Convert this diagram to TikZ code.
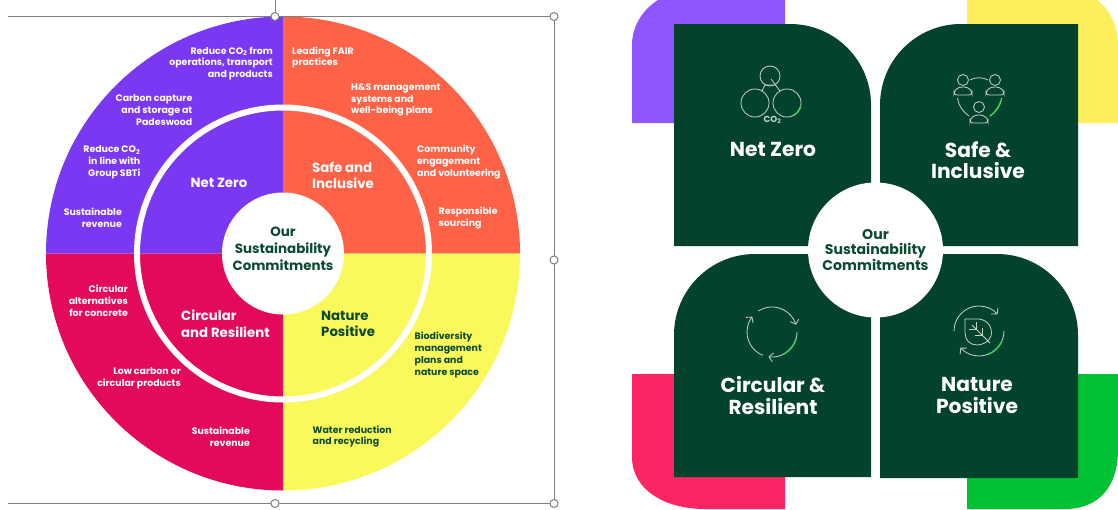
\documentclass[tikz,border=0pt]{standalone}
\usepackage{fontspec}
\setmainfont{Poppins}
\usetikzlibrary{arrows.meta}
\definecolor{ringpurple}{HTML}{7A38F2}
\definecolor{ringorange}{HTML}{FF6347}
\definecolor{ringcrimson}{HTML}{E30A5C}
\definecolor{ringyellow}{HTML}{F9F95B}
\definecolor{cardpurple}{HTML}{8F55FF}
\definecolor{cardyellow}{HTML}{FFEE5C}
\definecolor{cardpink}{HTML}{FB2564}
\definecolor{cardgreen}{HTML}{00C234}
\definecolor{carddark}{HTML}{03432E}
\definecolor{inkgreen}{HTML}{0B4A30}
\definecolor{framegrey}{HTML}{7F7F7F}
\definecolor{iconline}{HTML}{C4D4C6}
\definecolor{iconglow}{HTML}{45CF5F}
\tikzset{
	ringtext/.style={font=\fontsize{9.4}{11.8}\selectfont\bfseries, text=white, inner sep=0pt},
	ringleft/.style={ringtext, align=left, anchor=west},
	ringright/.style={ringtext, align=right, anchor=east},
	ringdark/.style={text=inkgreen},
	headtext/.style={font=\fontsize{13.3}{16.6}\selectfont\bfseries, text=white, inner sep=0pt, align=left},
	hubtext/.style={font=\fontsize{13.4}{17}\selectfont\bfseries, text=inkgreen, inner sep=0pt, align=center},
	cardtext/.style={font=\fontsize{20.2}{21.5}\selectfont\bfseries, text=white, inner sep=0pt, align=center},
	handle/.style={circle, draw=framegrey, fill=white, line width=1pt, minimum size=8pt, inner sep=0pt},
	icon/.style={draw=iconline, line width=0.8pt},
	glow/.style={draw=iconglow, line width=1.4pt, line cap=round},
	barb/.style={-{Straight Barb[length=4pt,width=9pt]}}
}

\begin{document}
\begin{tikzpicture}[x=1pt, y=-1pt]
	\useasboundingbox (0,0) rectangle (1118,509);

	% wheel on the left
	\fill[ringpurple] 	(283,253.5) -- (46,253.5) arc (180:270:237) -- cycle;
	\fill[ringorange] 	(283,253.5) -- (283,16.5) arc (270:360:237) -- cycle;
	\fill[ringyellow] 	(283,253.5) -- (520,253.5) arc (0:90:237) -- cycle;
	\fill[ringcrimson] 	(283,253.5) -- (283,490.5) arc (90:180:237) -- cycle;
	\draw[white, line width=6pt] 	(283,253.5) circle (146);
	\fill[white] 		(283,253.5) circle (61);

	% selection frame
	\draw[framegrey, line width=0.9pt] 	(8,16.5) -- (554,16.5) -- (554,503.5) -- (8,503.5);
	\draw[framegrey, line width=0.9pt] 	(275,0) -- (275,16.5);
	\node[handle] (handletop) at (275,16.5) {};
	\node[handle] (handlecorner) at (554,16.5) {};
	\node[handle] (handleside) at (554,260) {};
	\node[handle] (handlebottom) at (275,503.5) {};
	\node[handle] (handleend) at (554,503.5) {};

	% ring labels
	\node[ringright] (co2ops) at (273,63.5) {Reduce CO\textsubscript{2} from\\operations, transport\\and products};
	\node[ringright] (capture) at (192.5,110) {Carbon capture\\and storage at\\Padeswood};
	\node[ringright] (sbti) at (140.5,162) {Reduce CO\textsubscript{2}\\in line with\\Group SBTi};
	\node[ringright] (revenuea) at (122,218) {Sustainable\\revenue};
	\node[ringleft] (fair) at (292,57.5) {Leading FAIR\\practices};
	\node[ringleft] (hands) at (351,100) {H\&S management\\systems and\\well-being plans};
	\node[ringleft] (community) at (417,162) {Community\\engagement\\and volunteering};
	\node[ringleft] (sourcing) at (438.5,218) {Responsible\\sourcing};
	\node[ringright] (concrete) at (128,300.5) {Circular\\alternatives\\for concrete};
	\node[ringright] (lowcarbon) at (181,378) {Low carbon or\\circular products};
	\node[ringright] (revenueb) at (250,436.5) {Sustainable\\revenue};
	\node[ringleft, ringdark] (biodiversity) at (414.5,355) {Biodiversity\\management\\plans and\\nature space};
	\node[ringleft, ringdark] (water) at (312.5,436.5) {Water reduction\\and recycling};

	\node[headtext] (netzero) at (219,183) {Net Zero};
	\node[headtext, anchor=west] (safe) at (312,175.5) {Safe and\\Inclusive};
	\node[headtext, anchor=west] (circular) at (181,324) {Circular\\and Resilient};
	\node[headtext, anchor=west, text=inkgreen] (nature) at (321,324) {Nature\\Positive};
	\node[hubtext] (hub) at (283,249) {Our\\Sustainability\\Commitments};

	% coloured corners on the right
	\fill[cardpurple] 	(632,123) -- (632,45) .. controls (632,24) and (645,8) .. (658,0) -- (785,0) -- (785,123) -- cycle;
	\fill[cardyellow] 	(967,123) -- (967,0) -- (1097,0) .. controls (1108,8) and (1118,24) .. (1118,45) -- (1118,123) -- cycle;
	\fill[cardpink] 	(632,374) -- (785,374) -- (785,509) -- (705,509) .. controls (665,509) and (632,490) .. (632,457) -- cycle;
	\fill[cardgreen] 	(967,374) -- (1118,374) -- (1118,450) .. controls (1118,485) and (1100,509) .. (1065,509) -- (967,509) -- cycle;

	% dark cards
	\fill[carddark] 	(674,24) -- (790,24) arc (270:360:81) -- (871,246) -- (674,246) -- cycle;
	\fill[carddark] 	(1078,24) -- (961,24) arc (270:180:81) -- (880,246) -- (1078,246) -- cycle;
	\fill[carddark] 	(674,477) -- (674,335) arc (180:270:81) -- (871,254) -- (871,477) -- cycle;
	\fill[carddark] 	(1078,478) -- (1078,335) arc (360:270:81) -- (880,254) -- (880,478) -- cycle;
	\fill[white] 		(875.5,250) circle (67.5);

	\node[cardtext] (cardnet) at (773,149) {Net Zero};
	\node[cardtext] (cardsafe) at (978,160) {Safe \&\\Inclusive};
	\node[cardtext] (cardcircular) at (773,395.5) {Circular \&\\Resilient};
	\node[cardtext] (cardnature) at (977,395.5) {Nature\\Positive};
	\node[hubtext, font=\fontsize{14.1}{15}\selectfont\bfseries] (cardhub) at (875.5,250) {Our\\Sustainability\\Commitments};

	% molecule
	\draw[icon] 	(770,76) circle (10);
	\draw[icon] 	(755,103) circle (14);
	\draw[icon] 	(787,103) circle (14);
	\draw[icon] 	(771,79) -- (780,91);
	\draw[icon] 	(762,91) -- (765,85) -- (773,85);
	\draw[glow] 	(787,103) ++(15:14) arc (15:65:14);
	\node[text=iconline, font=\fontsize{8.8}{9}\selectfont\bfseries, inner sep=0pt] (iconco) at (772.5,120) {CO\textsubscript{2}};

	% people
	\draw[icon] 	(963,80) circle (5.5);
	\draw[icon] 	(995,80) circle (5.5);
	\draw[icon] 	(979,107) circle (5.5);
	\draw[icon, rounded corners=3pt] 	(954,95) -- (954,91) -- (959,87) -- (967,87) -- (972,91) -- (972,95) -- cycle;
	\draw[icon, rounded corners=3pt] 	(986,95) -- (986,91) -- (991,87) -- (999,87) -- (1004,91) -- (1004,95) -- cycle;
	\draw[icon, rounded corners=3pt] 	(970,123) -- (970,119) -- (975,115) -- (983,115) -- (988,119) -- (988,123) -- cycle;
	\draw[icon] 	(970,80) .. controls (975,77) and (983,77) .. (988,80);
	\draw[icon] 	(957.5,98) .. controls (958,105) and (963,112) .. (969,116);
	\draw[icon] 	(1001.5,98) .. controls (1001,105) and (996,112) .. (990,116);
	\draw[glow] 	(1001,101) .. controls (999,106) and (996,112) .. (990,116);

	% recycling arrows
	\draw[icon, barb] 	(772,332) ++(237:25) arc (237:343:25);
	\draw[icon, barb] 	(772,332) ++(0:25) arc (0:98:25);
	\draw[icon, barb] 	(772,332) ++(111:25) arc (111:218:25);
	\draw[glow] 	(772,332) ++(15:25) arc (15:62:25);

	% leaf in a loop
	\draw[icon, barb] 	(979,331) ++(180:25) arc (180:318:25);
	\draw[icon, barb] 	(979,331) ++(0:25) arc (0:138:25);
	\draw[glow] 	(979,331) ++(25:25) arc (25:68:25);
	\draw[icon] 	(965,319) -- (979,319) .. controls (988,320) and (993,328) .. (991,336) .. controls (989,342) and (982,345) .. (977,345) .. controls (970,345) and (965,340) .. (965,333) -- cycle;
	\draw[icon] 	(972,325) -- (990,343);
	\draw[icon] 	(976,329) -- (976,322);
	\draw[icon] 	(976,329) -- (969,329);
	\draw[icon] 	(982,335) -- (982,328);
	\draw[icon] 	(982,335) -- (975,335);
\end{tikzpicture}
\end{document}
